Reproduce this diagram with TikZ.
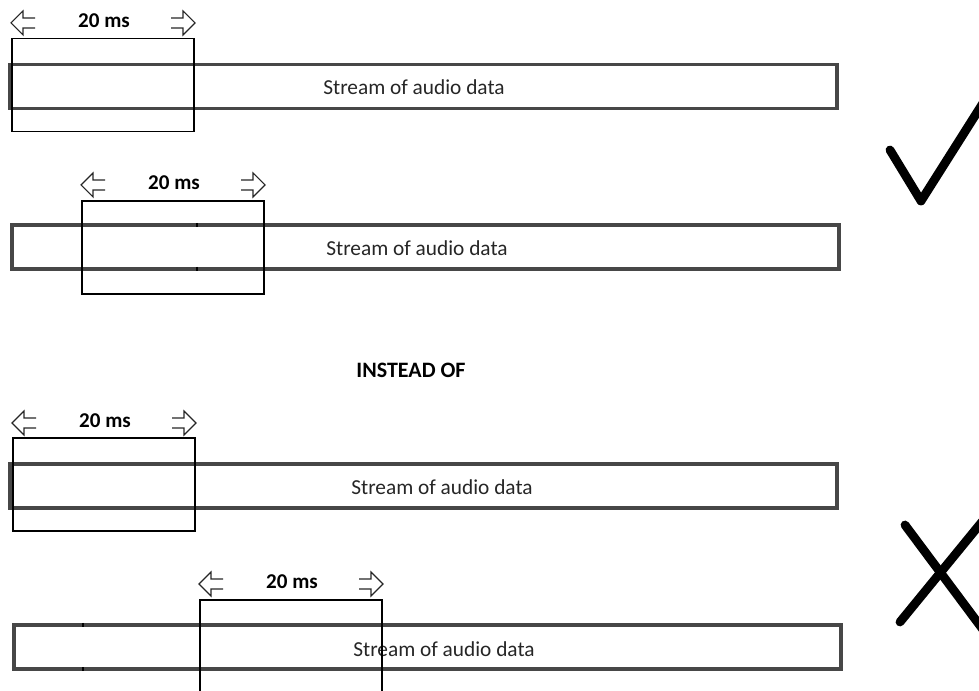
\documentclass[tikz,border=0pt]{standalone}
\usepackage{fontspec}
\setmainfont{Carlito}
\begin{document}
\begin{tikzpicture}[x=0.75pt,y=-0.75pt,
  bar/.style={draw=black!72,line width=2.7pt,rectangle,inner sep=0pt,
    minimum width=827*0.75pt,minimum height=44*0.75pt},
  win/.style={draw=black,line width=0.95pt,rectangle,inner sep=0pt,
    minimum width=182*0.75pt,minimum height=93*0.75pt},
  stxt/.style={inner sep=0pt,font=\fontsize{16pt}{18pt}\selectfont,text=black!85},
  lbl/.style={inner sep=0pt,font=\fontsize{15.8pt}{18pt}\selectfont\bfseries},
  harrow/.style={draw=black!85,line width=0.8pt,line join=miter},
  tickline/.style={draw=black,line width=1pt},
  signline/.style={draw=black,line width=6.6pt,line cap=round,line join=round}]
\useasboundingbox (0,0) rectangle (979,691);
\clip (0,0) rectangle (979,691);
% bars
\node[bar] (b1) at (423.5,86.5) {};
\node[bar] (b2) at (425.5,247) {};
\node[bar] (b3) at (423.5,486) {};
\node[bar] (b4) at (427.5,647) {};
\node[stxt] (t1) at (414,87) {Stream of audio data};
\node[stxt] (t2) at (417,248) {Stream of audio data};
\node[stxt] (t3) at (442,487) {Stream of audio data};
\node[stxt] (t4) at (444,649) {Stream of audio data};
% ticks
\draw[tickline] (197,223) -- (197,227) (197,267) -- (197,271);
\draw[tickline] (83,623) -- (83,627) (83,667) -- (83,671);
% windows
\node[win] (w1) at (103,85) {};
\node[win] (w2) at (173,247.5) {};
\node[win] (w3) at (104,484.5) {};
\node[win] (w4) at (291,646.5) {};
% labels
\node[lbl] (l1) at (104,21) {20 ms};
\node[lbl] (l2) at (174,183) {20 ms};
\node[lbl] (l3) at (105,421) {20 ms};
\node[lbl] (l4) at (292,582) {20 ms};
\node[lbl,font=\fontsize{16.5pt}{18pt}\selectfont\bfseries] (io) at (411,370) {INSTEAD OF};
% hollow arrows
\foreach \L/\R/\y in {11/195/23, 81/265/185, 12/196/423, 199/383/584}{
  \draw[harrow] (\L+24,\y-5) -- (\L+12,\y-5) -- (\L+12,\y-12) -- (\L,\y) -- (\L+12,\y+12) -- (\L+12,\y+5) -- (\L+24,\y+5);
  \draw[harrow] (\R-24,\y-5) -- (\R-12,\y-5) -- (\R-12,\y-12) -- (\R,\y) -- (\R-12,\y+12) -- (\R-12,\y+5) -- (\R-24,\y+5);
}
% check mark and cross
\draw[signline] (890,150) -- (921,201) -- (990,92);
\draw[signline] (905,525) -- (990,639);
\draw[signline] (900,622) -- (990,512);
\end{tikzpicture}
\end{document}
